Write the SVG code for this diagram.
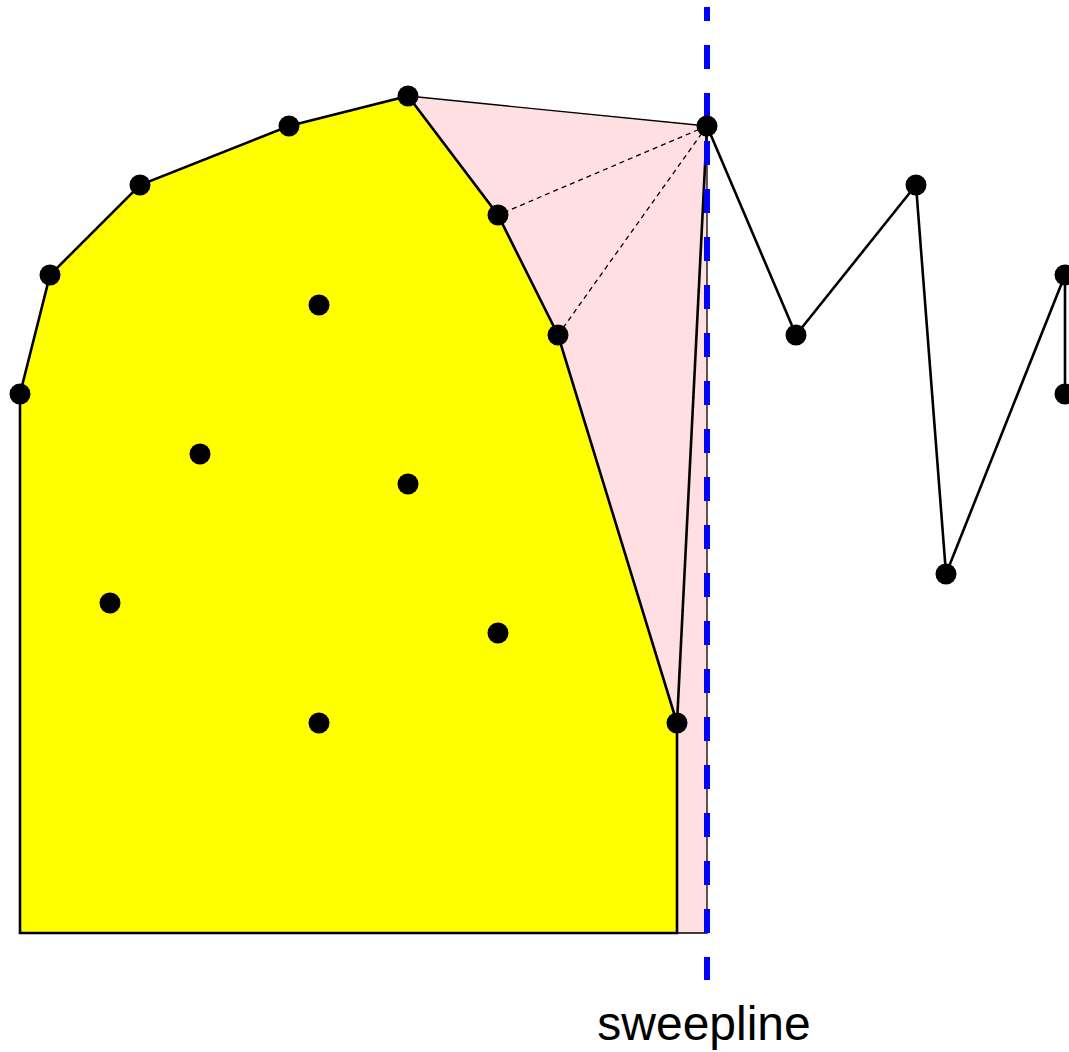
<svg xmlns="http://www.w3.org/2000/svg" width="1069" height="1052" viewBox="0 0 1069 1052">
<style>
.pt{fill:#000}
.thick{fill:none;stroke:#000;stroke-width:2.6;stroke-linejoin:round}
.thin{fill:none;stroke:#000;stroke-width:1.3}
.dash{fill:none;stroke:#000;stroke-width:1.3;stroke-dasharray:5 4}
</style>
<rect width="1069" height="1052" fill="#fff"/>
<g id="regions">
<polygon id="pink" points="408,96 707,126 707,933 677,933 677,723 558,335 498,215" fill="#ffdfe1"/>
<polygon id="hull" points="20,394 50,275 140,185 289,126 408,96 498,215 558,335 677,723 677,933 20,933" fill="#ffff00" stroke="#000" stroke-width="2.6" stroke-linejoin="miter"/>
</g>
<g id="connectors">
<polyline class="thin" points="408,96 707,126"/>
<polyline class="thin" points="707,126 707,933 677,933" stroke="#333"/>
<line class="dash" x1="707" y1="126" x2="498" y2="215"/>
<line class="dash" x1="707" y1="126" x2="558" y2="335"/>
<line class="thick" x1="707" y1="126" x2="677" y2="723"/>
<polyline class="thick" points="707,126 796,335 916,185 946,574 1065,275 1065,394"/>
</g>
<g id="sweepline">
<line x1="707" y1="7" x2="707" y2="980" stroke="#0000ff" stroke-width="6" stroke-dasharray="24 24" stroke-dashoffset="10"/>
<text x="704" y="1040" font-family="Liberation Sans, Arial, sans-serif" font-size="48" text-anchor="middle" fill="#000">sweepline</text>
</g>
<g id="points">
<circle id="p1" class="pt" cx="20" cy="394" r="10.5"/>
<circle id="p2" class="pt" cx="50" cy="275" r="10.5"/>
<circle id="p3" class="pt" cx="140" cy="185" r="10.5"/>
<circle id="p4" class="pt" cx="289" cy="126" r="10.5"/>
<circle id="p5" class="pt" cx="408" cy="96" r="10.5"/>
<circle id="p6" class="pt" cx="498" cy="215" r="10.5"/>
<circle id="p7" class="pt" cx="558" cy="335" r="10.5"/>
<circle id="p8" class="pt" cx="677" cy="723" r="10.5"/>
<circle id="p9" class="pt" cx="707" cy="126" r="10.5"/>
<circle id="p10" class="pt" cx="796" cy="335" r="10.5"/>
<circle id="p11" class="pt" cx="916" cy="185" r="10.5"/>
<circle id="p12" class="pt" cx="946" cy="574" r="10.5"/>
<circle id="p13" class="pt" cx="1065" cy="275" r="10.5"/>
<circle id="p14" class="pt" cx="1065" cy="394" r="10.5"/>
<circle id="p15" class="pt" cx="319" cy="305" r="10.5"/>
<circle id="p16" class="pt" cx="200" cy="454" r="10.5"/>
<circle id="p17" class="pt" cx="408" cy="484" r="10.5"/>
<circle id="p18" class="pt" cx="110" cy="603" r="10.5"/>
<circle id="p19" class="pt" cx="498" cy="633" r="10.5"/>
<circle id="p20" class="pt" cx="319" cy="723" r="10.5"/>
</g>
</svg>
